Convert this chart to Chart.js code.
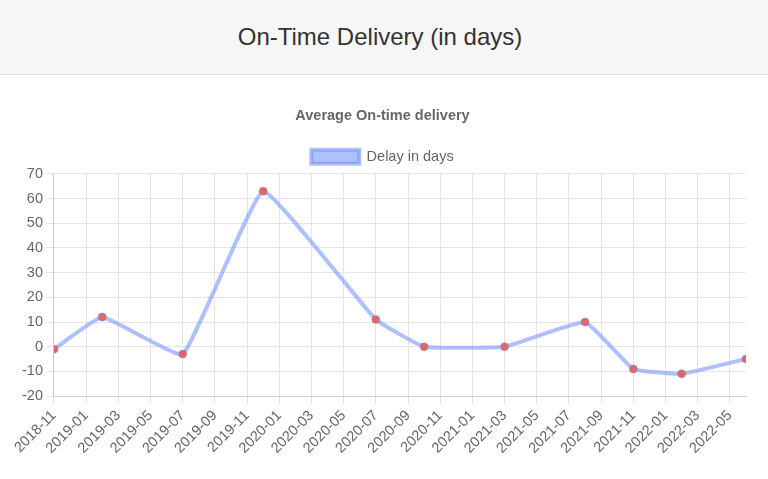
<!DOCTYPE html>
<html>
<head>
<meta charset="utf-8">
<style>
    body { margin: 0; font-family: "Liberation Sans", Arial, sans-serif; background: #fff; }
    .header { height: 74px; background: #f7f7f7; border-bottom: 1px solid #ddd; text-align: center; }
    .header h1 { margin: 0; line-height: 74px; font-size: 24px; font-weight: normal; color: #333; padding-right: 8px; }
    .graph { position: relative; height: 384px; margin-top: 20px; }
</style>
</head>
<body>
<div class="header"><h1>On-Time Delivery (in days)</h1></div>
<div class="graph"><canvas id="chartDelivery"></canvas></div>
<script src="https://cdn.jsdelivr.net/npm/chart.js@4.4.0/dist/chart.umd.min.js"></script>
<script>
// Delivery months and average delay (days)
const months = ['2018-11', '2019-02', '2019-07', '2019-12', '2020-07', '2020-10', '2021-03', '2021-08', '2021-11', '2022-02', '2022-06'];
const delays = [-1, 12, -3, 63, 11, 0, 0, 10, -9, -11, -5];
const startMonth = '2018-11';

// month string -> number of months since startMonth
function monthIndex(m) {
    const [y, mo] = m.split('-').map(Number);
    const [y0, mo0] = startMonth.split('-').map(Number);
    return (y - y0) * 12 + (mo - mo0);
}
function indexToMonth(i) {
    const [y0, mo0] = startMonth.split('-').map(Number);
    const total = y0 * 12 + (mo0 - 1) + i;
    const y = Math.floor(total / 12);
    const mo = total % 12 + 1;
    return y + '-' + String(mo).padStart(2, '0');
}

const points = months.map((m, i) => ({ x: monthIndex(m), y: delays[i] }));
const fontSize = 14.5;

new Chart(document.getElementById('chartDelivery'), {
    type: 'line',
    data: {
        datasets: [{
            label: 'Delay in days',
            data: points,
            borderColor: 'rgba(110, 140, 255, 0.55)',
            backgroundColor: 'rgba(110, 140, 255, 0.55)',
            borderWidth: 4,
            tension: 0.1,
            pointRadius: 4,
            pointBackgroundColor: '#e2685e',
            pointBorderColor: 'rgba(110, 140, 255, 0.55)',
            pointBorderWidth: 1,
            fill: false
        }]
    },
    options: {
        responsive: true,
        maintainAspectRatio: false,
        animation: false,
        layout: { padding: { left: 19, right: 22, bottom: 19 } },
        plugins: {
            title: {
                display: true,
                text: 'Average On-time delivery',
                color: '#666',
                font: { size: fontSize, weight: 'bold' },
                padding: { top: 12, bottom: 14 }
            },
            legend: {
                labels: { color: '#666', font: { size: fontSize }, boxWidth: 48, boxHeight: 14, padding: 11 }
            },
            tooltip: { enabled: false }
        },
        scales: {
            x: {
                type: 'linear',
                min: 0,
                max: monthIndex(months[months.length - 1]),
                grid: { color: '#e5e5e5' },
                ticks: {
                    stepSize: 2,
                    includeBounds: false,
                    color: '#666',
                    font: { size: fontSize },
                    minRotation: 45,
                    maxRotation: 45,
                    callback: v => indexToMonth(v)
                }
            },
            y: {
                min: -20,
                max: 70,
                grid: { color: '#e5e5e5' },
                ticks: { stepSize: 10, color: '#666', font: { size: fontSize } }
            }
        }
    }
});
</script>
</body>
</html>
